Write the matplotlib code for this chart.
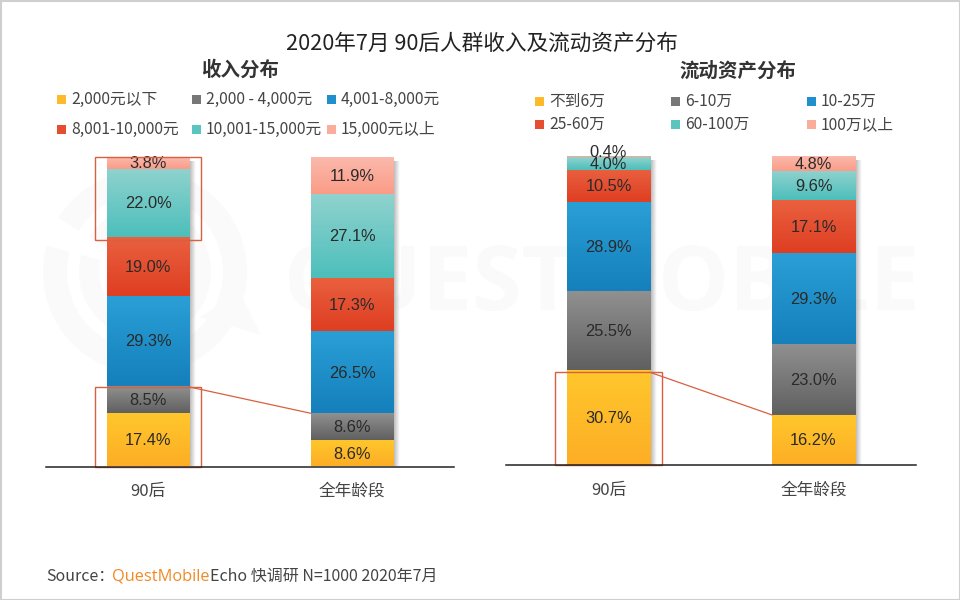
import numpy as np
import matplotlib
matplotlib.use("Agg")
import matplotlib.pyplot as plt
from matplotlib.patches import Rectangle, Wedge, Polygon
from matplotlib.colors import to_rgb

plt.rcParams['font.family'] = ['Noto Sans CJK SC', 'DejaVu Sans']

title = "2020年7月 90后人群收入及流动资产分布"
categories = ["90后", "全年龄段"]
income_title = "收入分布"
income_labels = ["2,000元以下", "2,000 - 4,000元", "4,001-8,000元",
                 "8,001-10,000元", "10,001-15,000元", "15,000元以上"]
income_young = [17.4, 8.5, 29.3, 19.0, 22.0, 3.8]
income_all = [8.6, 8.6, 26.5, 17.3, 27.1, 11.9]
asset_title = "流动资产分布"
asset_labels = ["不到6万", "6-10万", "10-25万", "25-60万", "60-100万", "100万以上"]
asset_young = [30.7, 25.5, 28.9, 10.5, 4.0, 0.4]
asset_all = [16.2, 23.0, 29.3, 17.1, 9.6, 4.8]

grad_top = ["#FFC72C", "#909090", "#2A9FD6", "#E9603F", "#8FD2CE", "#FBB9AB"]
grad_bot = ["#FDAE25", "#606060", "#1580BC", "#DF3E22", "#4DBFBB", "#FA9C88"]
swatch = ["#FDBB2C", "#777777", "#2090CC", "#E54E30", "#5CC4BE", "#FBAD9C"]
W, H = 960, 600
RED = "#D9603F"

fig = plt.figure(figsize=(W/100, H/100), dpi=100, facecolor="white")
bg = fig.add_axes([0, 0, 1, 1], zorder=0)
bg.set_xlim(0, W); bg.set_ylim(H, 0); bg.axis("off")
bg.add_patch(Rectangle((0.5, 0.5), W-1, H-1, fill=False, ec="#CFCFCF", lw=1.5))

# watermark
wm = "#FAFAFA"
cx, cy = 145, 272
for r, w in [(102, 24), (66, 20)]:
    bg.add_patch(Wedge((cx, cy), r, 212, 555, width=w, fc=wm, ec="none"))
bg.add_patch(Polygon([[200, 317], [240, 293], [261, 335]], fc=wm, ec="none"))
bg.text(602, 287, "QUESTMOBILE", fontsize=64.5, fontweight="bold", color=wm,
        ha="center", va="center", family=["Open Sans", "DejaVu Sans"])

def px_axes(x0, x1, ytop, ybot):
    return fig.add_axes([x0/W, 1-ybot/H, (x1-x0)/W, (ybot-ytop)/H], zorder=2)

shadow = np.zeros((1, 16, 4))
shadow[..., :3] = 0.6
shadow[..., 3] = np.linspace(0.75, 0, 16)

def stacked(ax, a, b, box_top_n, low_pad):
    ax.patch.set_alpha(0)
    ax.set_xticks([0, 1]); ax.set_xticklabels(categories, fontsize=12, color="#444444")
    ax.tick_params(axis="x", length=0, pad=12)
    ax.set_yticks([])
    for s in ["top", "left", "right"]:
        ax.spines[s].set_visible(False)
    ax.spines["bottom"].set_color("#222222"); ax.spines["bottom"].set_linewidth(1.1)
    ax.spines["bottom"].set_zorder(6)
    bw = 0.405
    for x, vals in zip([0, 1], [a, b]):
        ax.imshow(shadow, extent=(x+bw/2, x+bw/2+0.03, 0, min(sum(vals), 100)-1.5),
                  aspect="auto", zorder=1, interpolation="bilinear")
        base = 0
        for i, v in enumerate(vals):
            c0, c1 = np.array(to_rgb(grad_top[i])), np.array(to_rgb(grad_bot[i]))
            g = np.linspace(0, 1, 32)[:, None, None]*(c1-c0)[None, None, :]+c0[None, None, :]
            ax.imshow(g, extent=(x-bw/2, x+bw/2, base, base+v), aspect="auto",
                      origin="upper", zorder=2, interpolation="bilinear")
            ty = base+v/2 + (1.3 if v < 1 else -0.3)
            ax.text(x, ty, f"{v:.1f}%", ha="center", va="center",
                    fontsize=11.8, color="#2A2A2A", zorder=5,
                    family=["Liberation Sans", "DejaVu Sans"], clip_on=False)
            base += v
    ax.set_xlim(-0.5, 1.5); ax.set_ylim(0, 100)
    bx = 0.262
    low = sum(a[:box_top_n])
    ax.add_patch(Rectangle((-bx, 0), 2*bx, low-low_pad, fill=False, ec=RED, lw=1, zorder=6, clip_on=False))
    if box_top_n == 2:
        upper = sum(a[4:])
        ax.add_patch(Rectangle((-bx, 100-upper-1), 2*bx, upper+1, fill=False, ec=RED, lw=1, zorder=6, clip_on=False))
    ax.plot([bw/2, 1-bw/2], [low-low_pad, sum(b[:box_top_n])],
            color=RED, lw=0.9, zorder=6)

ax1 = px_axes(46, 454, 157, 466.5)
stacked(ax1, income_young, income_all, 2, 0.2)
ax2 = px_axes(506, 916, 156, 465)
stacked(ax2, asset_young, asset_all, 1, 0.7)

ov = fig.add_axes([0, 0, 1, 1], zorder=3)
ov.set_xlim(0, W); ov.set_ylim(H, 0); ov.axis("off"); ov.patch.set_alpha(0)
ov.text(481.5, 43.5, title, fontsize=15.6, color="#222222", ha="center", va="center")
ov.text(240.5, 69.5, income_title, fontsize=14, color="#333333", ha="center", va="center", fontweight="bold")
ov.text(738, 71.5, asset_title, fontsize=14, color="#333333", ha="center", va="center", fontweight="bold")

def legend(labels, xs, ys, fs):
    for i, lab in enumerate(labels):
        x, y = xs[i % 3], ys[i // 3]
        ov.add_patch(Rectangle((x, y-4.5), 9, 9, fc=swatch[i], ec="none"))
        ov.text(x+14, y+0.5, lab, fontsize=fs, color="#444444", ha="left", va="center")

legend(income_labels, [57, 192, 327], [99, 129], 11.3)
legend(asset_labels, [535, 671, 807], [101, 124], 11.3)

ov.text(46, 576.5, "Source：", fontsize=11.5, color="#444444", ha="left", va="center")
ov.text(112, 576.5, "QuestMobile", fontsize=11.8, color="#F08A24", ha="left", va="center",
        family=["Open Sans", "DejaVu Sans"])
ov.text(210, 576.5, "Echo 快调研 N=1000 2020年7月", fontsize=11.5, color="#444444", ha="left", va="center")

fig.savefig("out.png", dpi=100)
